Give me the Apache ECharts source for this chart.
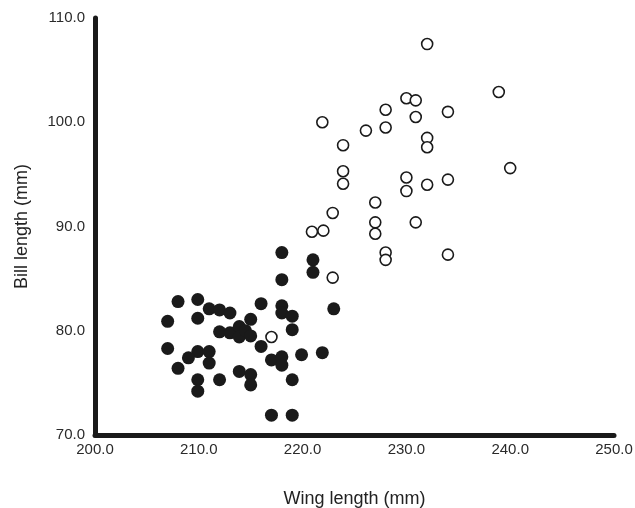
<!DOCTYPE html>
<html>
<head>
<meta charset="utf-8">
<script src="https://cdn.jsdelivr.net/npm/echarts@6/dist/echarts.min.js"></script>
<style>
  html, body { margin: 0; padding: 0; background: #fff; }
  #main { width: 635px; height: 508px; }
</style>
</head>
<body>
<div id="main"></div>
<script>
// 填充圆点：[翼长, 喙长]
var filledPoints = [
  [218.0, 87.5], [221.0, 86.8], [221.0, 85.6], [218.0, 84.9],
  [208.0, 82.8], [209.9, 83.0], [211.0, 82.1], [212.0, 82.0], [213.0, 81.7],
  [216.0, 82.6], [218.0, 82.4], [218.0, 81.7], [219.0, 81.4], [223.0, 82.1],
  [207.0, 80.9], [209.9, 81.2], [215.0, 81.1], [219.0, 80.1], [212.0, 79.9],
  [213.0, 79.8], [213.9, 80.4], [213.9, 79.4], [214.5, 80.0], [215.0, 79.5],
  [207.0, 78.3], [216.0, 78.5], [209.9, 78.0], [211.0, 78.0], [209.0, 77.4],
  [211.0, 76.9], [217.0, 77.2], [218.0, 77.5], [218.0, 76.7], [219.9, 77.7],
  [221.9, 77.9], [208.0, 76.4], [213.9, 76.1], [215.0, 75.8], [215.0, 74.8],
  [209.9, 75.3], [209.9, 74.2], [212.0, 75.3], [219.0, 75.3], [217.0, 71.9],
  [219.0, 71.9]
];

// 空心圆点
var openPoints = [
  [232.0, 107.5], [238.9, 102.9], [230.0, 102.3], [230.9, 102.1], [221.9, 100.0],
  [228.0, 101.2], [234.0, 101.0], [226.1, 99.2], [228.0, 99.5], [230.9, 100.5],
  [223.9, 97.8], [232.0, 98.5], [232.0, 97.6], [223.9, 95.3], [223.9, 94.1],
  [240.0, 95.6], [230.0, 94.7], [230.0, 93.4], [232.0, 94.0], [234.0, 94.5],
  [227.0, 92.3], [222.9, 91.3], [227.0, 90.4], [227.0, 89.3], [230.9, 90.4],
  [220.9, 89.5], [222.0, 89.6], [228.0, 87.5], [228.0, 86.8], [234.0, 87.3],
  [222.9, 85.1], [217.0, 79.4]
];

var xRange = [200, 250];
var yRange = [70, 110];

var myChart = echarts.init(document.getElementById('main'));

var fontName = 'Liberation Sans, Arial, sans-serif';

var axisLabelStyle = {
  color: '#2a2a2a',
  fontSize: 15,
  fontFamily: fontName,
  formatter: function (v) { return v.toFixed(1); }
};

var option = {
  animation: false,
  grid: {
    left: 95,
    right: 21,
    top: 18,
    bottom: 73,
    containLabel: false,
    outerBoundsMode: 'none'
  },
  xAxis: {
    type: 'value',
    min: xRange[0],
    max: xRange[1],
    interval: 10,
    name: 'Wing length (mm)',
    nameLocation: 'middle',
    nameGap: 55,
    nameTextStyle: { color: '#222', fontSize: 18, fontFamily: fontName },
    axisLine: { lineStyle: { color: '#1a1a1a', width: 5 } },
    axisTick: { show: true, length: 2, lineStyle: { color: '#1a1a1a', width: 1 } },
    axisLabel: Object.assign({ margin: 7 }, axisLabelStyle),
    splitLine: { show: false }
  },
  yAxis: {
    type: 'value',
    min: yRange[0],
    max: yRange[1],
    interval: 10,
    name: 'Bill length (mm)',
    nameLocation: 'middle',
    nameGap: 64,
    nameTextStyle: { color: '#222', fontSize: 18, fontFamily: fontName },
    axisLine: { lineStyle: { color: '#1a1a1a', width: 5 } },
    axisTick: { show: true, length: 2, lineStyle: { color: '#1a1a1a', width: 1 } },
    axisLabel: Object.assign({ margin: 10 }, axisLabelStyle),
    splitLine: { show: false }
  },
  series: [
    {
      name: 'filled',
      type: 'scatter',
      symbol: 'circle',
      symbolSize: 13,
      itemStyle: { color: '#1a1a1a', opacity: 1 },
      data: filledPoints
    },
    {
      name: 'open',
      type: 'scatter',
      symbol: 'circle',
      symbolSize: 11,
      itemStyle: { color: '#fff', borderColor: '#1a1a1a', borderWidth: 1.6, opacity: 1 },
      data: openPoints
    }
  ]
};

myChart.setOption(option);
</script>
</body>
</html>
